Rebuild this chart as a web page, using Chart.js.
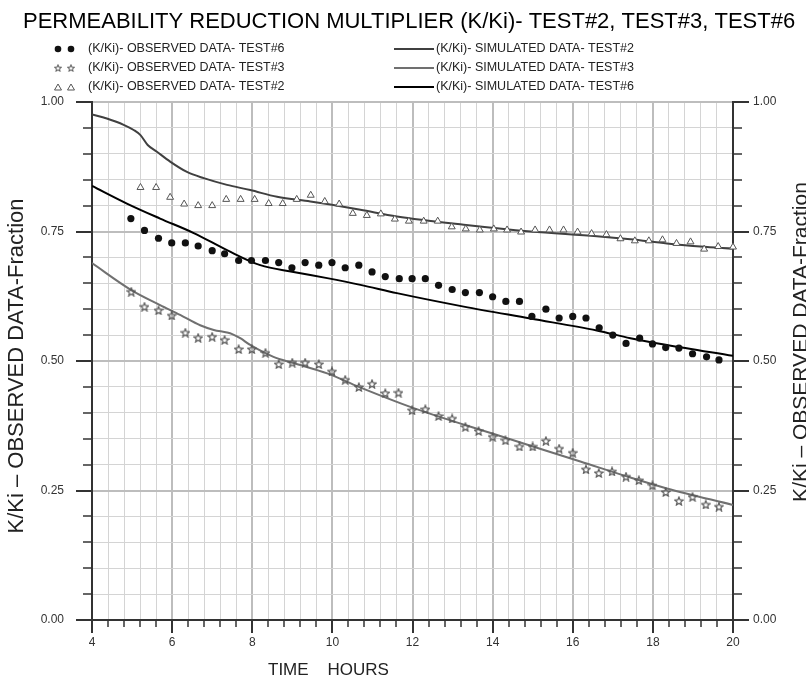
<!DOCTYPE html>
<html>
<head>
<meta charset="utf-8">
<script src="https://cdn.jsdelivr.net/npm/chart.js@4.4.1/dist/chart.umd.min.js"></script>
<style>
html, body { margin: 0; padding: 0; background: #fff; overflow: hidden; }
#wrap { width: 806px; height: 677px; position: relative; }
</style>
</head>
<body>
<div id="wrap"><canvas id="permChart"></canvas></div>
<script>
// Observed K/Ki, time in hours
var obs6Time = [4.97, 5.31, 5.66, 5.99, 6.33, 6.65, 7.0, 7.31, 7.66, 7.98, 8.33, 8.66, 8.99, 9.32, 9.66, 9.99, 10.32, 10.66, 10.99, 11.32, 11.67, 11.99, 12.32, 12.65, 12.99, 13.32, 13.67, 14.0, 14.33, 14.67, 14.98, 15.33, 15.66, 16.0, 16.33, 16.66, 17.0, 17.33, 17.67, 17.99, 18.32, 18.65, 18.99, 19.34, 19.65];
var obs6Val = [0.775, 0.752, 0.737, 0.728, 0.728, 0.722, 0.713, 0.707, 0.694, 0.694, 0.694, 0.690, 0.680, 0.690, 0.685, 0.690, 0.680, 0.685, 0.672, 0.663, 0.659, 0.659, 0.659, 0.646, 0.638, 0.632, 0.632, 0.624, 0.615, 0.615, 0.586, 0.600, 0.583, 0.586, 0.583, 0.564, 0.550, 0.534, 0.544, 0.533, 0.526, 0.525, 0.514, 0.508, 0.502];

var obs3Time = [4.98, 5.31, 5.66, 5.99, 6.33, 6.65, 7.0, 7.31, 7.66, 7.99, 8.33, 8.66, 9.0, 9.32, 9.66, 9.99, 10.32, 10.66, 10.99, 11.32, 11.65, 11.99, 12.32, 12.65, 12.99, 13.32, 13.65, 14.0, 14.32, 14.67, 15.0, 15.33, 15.66, 16.0, 16.33, 16.65, 16.98, 17.33, 17.65, 17.99, 18.32, 18.65, 18.99, 19.32, 19.65];
var obs3Val = [0.634, 0.605, 0.598, 0.588, 0.555, 0.545, 0.547, 0.541, 0.523, 0.523, 0.516, 0.494, 0.497, 0.497, 0.494, 0.480, 0.464, 0.450, 0.456, 0.438, 0.439, 0.405, 0.407, 0.394, 0.389, 0.373, 0.365, 0.354, 0.347, 0.335, 0.335, 0.346, 0.331, 0.323, 0.291, 0.284, 0.287, 0.277, 0.270, 0.260, 0.247, 0.230, 0.238, 0.223, 0.219];

var obs2Time = [5.21, 5.6, 5.95, 6.3, 6.65, 7.0, 7.35, 7.71, 8.06, 8.41, 8.76, 9.11, 9.46, 9.81, 10.17, 10.51, 10.86, 11.21, 11.56, 11.91, 12.28, 12.63, 12.98, 13.33, 13.68, 14.03, 14.36, 14.71, 15.06, 15.42, 15.77, 16.12, 16.47, 16.84, 17.19, 17.55, 17.9, 18.24, 18.59, 18.94, 19.28, 19.63, 20.0];
var obs2Val = [0.835, 0.835, 0.816, 0.803, 0.800, 0.800, 0.812, 0.812, 0.812, 0.804, 0.804, 0.812, 0.820, 0.808, 0.803, 0.785, 0.781, 0.784, 0.774, 0.770, 0.770, 0.770, 0.759, 0.755, 0.753, 0.755, 0.753, 0.749, 0.753, 0.753, 0.753, 0.749, 0.746, 0.744, 0.736, 0.732, 0.732, 0.734, 0.727, 0.730, 0.716, 0.721, 0.720];

// Simulated curves
var sim2Time = [4, 4.37, 4.79, 5.04, 5.21, 5.39, 5.62, 5.95, 6.37, 6.79, 7.37, 7.95, 8.62, 9.45, 9.95, 10.7, 11.61, 13.28, 14.95, 16.6, 17.44, 18.35, 19.19, 20];
var sim2Val = [0.976, 0.968, 0.956, 0.946, 0.936, 0.917, 0.904, 0.885, 0.865, 0.853, 0.840, 0.830, 0.817, 0.808, 0.802, 0.792, 0.779, 0.763, 0.750, 0.741, 0.735, 0.727, 0.721, 0.717];

var sim3Time = [4, 4.98, 5.7, 6.2, 6.7, 7.04, 7.37, 7.5, 7.7, 7.95, 8.53, 9.03, 9.87, 10.66, 12.03, 14.11, 16.19, 17.44, 18.35, 20];
var sim3Val = [0.689, 0.637, 0.608, 0.589, 0.569, 0.560, 0.555, 0.552, 0.544, 0.531, 0.508, 0.496, 0.476, 0.450, 0.409, 0.357, 0.306, 0.275, 0.254, 0.222];

var sim6Time = [4, 4.87, 5.7, 6.54, 7.37, 8.2, 9.03, 9.87, 10.7, 11.61, 13.28, 14.94, 16.6, 17.44, 18.35, 20];
var sim6Val = [0.838, 0.804, 0.775, 0.747, 0.714, 0.685, 0.672, 0.660, 0.647, 0.631, 0.605, 0.582, 0.559, 0.544, 0.531, 0.510];

var xMajorTicks = [4, 6, 8, 10, 12, 14, 16, 18, 20];
var yMajorTicks = [0, 0.25, 0.5, 0.75, 1.0];

var chartTitle = 'PERMEABILITY REDUCTION MULTIPLIER (K/Ki)- TEST#2, TEST#3, TEST#6';
var yTitle = 'K/Ki \u2013 OBSERVED DATA-Fraction';
var xTitle = 'TIME    HOURS';

function pts(t, v) {
    return t.map(function (x, i) { return { x: x, y: v[i] }; });
}

function isMajor(v, list) {
    return list.some(function (m) { return Math.abs(v - m) < 1e-6; });
}

// outlined five point star used for TEST#3 markers
function makeStar(size, color) {
    var c = document.createElement('canvas');
    c.width = size; c.height = size;
    var g = c.getContext('2d');
    var cx = size / 2, cy = size / 2 + 0.5, ro = size / 2 - 0.7, ri = ro * 0.45;
    g.beginPath();
    for (var i = 0; i < 10; i++) {
        var r = i % 2 ? ri : ro;
        var a = -Math.PI / 2 + i * Math.PI / 5;
        g.lineTo(cx + r * Math.cos(a), cy + r * Math.sin(a));
    }
    g.closePath();
    g.strokeStyle = color;
    g.lineWidth = 1.2;
    g.stroke();
    return c;
}
var starImg = makeStar(10, '#555');

var fontFam = '"Liberation Sans", Arial, sans-serif';

// title, two-column legend, axis titles and tick marks
var decor = {
    id: 'decor',
    afterDraw: function (chart) {
        var ctx = chart.ctx;
        var xs = chart.scales.x, yl = chart.scales.y, yr = chart.scales.y2;
        var ds = chart.data.datasets;
        ctx.save();

        ctx.strokeStyle = '#333';
        xs.ticks.forEach(function (t) {
            var px = Math.round(xs.getPixelForValue(t.value));
            var maj = isMajor(t.value, xMajorTicks);
            ctx.lineWidth = maj ? 2 : 1.5;
            ctx.beginPath();
            ctx.moveTo(px, xs.top);
            ctx.lineTo(px, xs.top + (maj ? 13 : 7));
            ctx.stroke();
        });
        [[yl, -1], [yr, 1]].forEach(function (pair) {
            var s = pair[0], dir = pair[1];
            var x0 = dir < 0 ? s.right : s.left;
            s.ticks.forEach(function (t) {
                var py = Math.round(s.getPixelForValue(t.value));
                var maj = isMajor(t.value, yMajorTicks);
                ctx.lineWidth = maj ? 2 : 1.5;
                ctx.beginPath();
                ctx.moveTo(x0, py);
                ctx.lineTo(x0 + dir * (maj ? 16 : 9), py);
                ctx.stroke();
            });
        });

        ctx.fillStyle = '#000';
        ctx.textBaseline = 'middle';
        ctx.textAlign = 'left';
        ctx.font = '22px ' + fontFam;
        ctx.fillText(chartTitle, 23, 22);

        // legend: observed on the left, simulated on the right
        var rows = [49, 68, 87];
        ctx.font = '12.5px ' + fontFam;
        [0, 1, 2].forEach(function (i) {
            var d = ds[i], y = rows[i];
            [58, 71].forEach(function (mx) {
                if (d.pointStyle === 'circle') {
                    ctx.fillStyle = d.backgroundColor;
                    ctx.beginPath(); ctx.arc(mx, y, 3.3, 0, Math.PI * 2); ctx.fill();
                } else if (d.pointStyle === 'triangle') {
                    ctx.strokeStyle = d.borderColor; ctx.lineWidth = 1;
                    ctx.beginPath(); ctx.moveTo(mx, y - 3); ctx.lineTo(mx + 3.5, y + 3); ctx.lineTo(mx - 3.5, y + 3); ctx.closePath(); ctx.stroke();
                } else {
                    ctx.drawImage(d.pointStyle, mx - 4, y - 4, 8, 8);
                }
            });
            ctx.fillStyle = '#222';
            ctx.fillText(d.label, 88, y);
        });
        [3, 4, 5].forEach(function (i, k) {
            var d = ds[i], y = rows[k];
            ctx.strokeStyle = d.borderColor;
            ctx.lineWidth = d.borderWidth;
            ctx.beginPath(); ctx.moveTo(394, y); ctx.lineTo(434, y); ctx.stroke();
            ctx.fillStyle = '#222';
            ctx.fillText(d.label, 436, y);
        });

        // axis titles
        ctx.fillStyle = '#222';
        ctx.font = '17px ' + fontFam;
        ctx.fillText(xTitle, 268, 670);

        ctx.textAlign = 'center';
        ctx.save();
        ctx.font = '22px ' + fontFam;
        ctx.translate(17, 366);
        ctx.rotate(-Math.PI / 2);
        ctx.fillText(yTitle, 0, 0);
        ctx.restore();
        ctx.save();
        ctx.font = '21px ' + fontFam;
        ctx.translate(801, 342);
        ctx.rotate(-Math.PI / 2);
        ctx.fillText(yTitle, 0, 0);
        ctx.restore();

        ctx.restore();
    }
};

function gridColor(list) {
    return function (c) { return c.tick && isMajor(c.tick.value, list) ? '#bdbdbd' : '#d4d4d4'; };
}
function gridWidth(list) {
    return function (c) { return c.tick && isMajor(c.tick.value, list) ? 2 : 1; };
}
function yLabel(v) {
    return isMajor(v, yMajorTicks) ? v.toFixed(2) : '';
}

var ctxEl = document.getElementById('permChart').getContext('2d');
var permChart = new Chart(ctxEl, {
    type: 'scatter',
    data: {
        datasets: [
            {
                label: '(K/Ki)- OBSERVED DATA- TEST#6',
                data: pts(obs6Time, obs6Val),
                pointStyle: 'circle',
                pointRadius: 3.6,
                backgroundColor: '#111',
                borderColor: '#111',
                borderWidth: 0,
                clip: false
            },
            {
                label: '(K/Ki)- OBSERVED DATA- TEST#3',
                data: pts(obs3Time, obs3Val),
                pointStyle: starImg,
                pointRadius: 5,
                backgroundColor: '#555',
                borderColor: '#555',
                clip: false
            },
            {
                label: '(K/Ki)- OBSERVED DATA- TEST#2',
                data: pts(obs2Time, obs2Val),
                pointStyle: 'triangle',
                pointRadius: 4,
                backgroundColor: '#fff',
                borderColor: '#555',
                borderWidth: 1,
                clip: false
            },
            {
                label: '(K/Ki)- SIMULATED DATA- TEST#2',
                data: pts(sim2Time, sim2Val),
                showLine: true,
                pointRadius: 0,
                borderColor: '#404040',
                borderWidth: 2,
                cubicInterpolationMode: 'monotone'
            },
            {
                label: '(K/Ki)- SIMULATED DATA- TEST#3',
                data: pts(sim3Time, sim3Val),
                showLine: true,
                pointRadius: 0,
                borderColor: '#707070',
                borderWidth: 2,
                cubicInterpolationMode: 'monotone'
            },
            {
                label: '(K/Ki)- SIMULATED DATA- TEST#6',
                data: pts(sim6Time, sim6Val),
                showLine: true,
                pointRadius: 0,
                borderColor: '#000',
                borderWidth: 2,
                cubicInterpolationMode: 'monotone'
            }
        ]
    },
    options: {
        responsive: true,
        maintainAspectRatio: false,
        animation: false,
        layout: { padding: { top: 102, left: 0, right: 0, bottom: 0 } },
        plugins: {
            legend: { display: false },
            title: { display: false },
            tooltip: { enabled: false }
        },
        scales: {
            x: {
                type: 'linear',
                min: 4,
                max: 20,
                afterFit: function (s) { s.height = 57; },
                ticks: {
                    stepSize: 0.4,
                    autoSkip: false,
                    maxRotation: 0,
                    padding: 2,
                    color: '#333',
                    font: { family: fontFam, size: 12 },
                    callback: function (v) { return isMajor(v, xMajorTicks) ? String(Math.round(v)) : ''; }
                },
                grid: { color: gridColor(xMajorTicks), lineWidth: gridWidth(xMajorTicks), tickLength: 13, tickColor: 'transparent' },
                border: { display: true, color: '#333', width: 2 }
            },
            y: {
                position: 'left',
                min: 0,
                max: 1,
                afterFit: function (s) { s.width = 92; },
                ticks: {
                    stepSize: 0.05,
                    autoSkip: false,
                    padding: 12,
                    color: '#333',
                    font: { family: fontFam, size: 12 },
                    callback: yLabel
                },
                grid: { color: gridColor(yMajorTicks), lineWidth: gridWidth(yMajorTicks), tickLength: 16, tickColor: 'transparent' },
                border: { display: true, color: '#333', width: 2 }
            },
            y2: {
                position: 'right',
                min: 0,
                max: 1,
                afterFit: function (s) { s.width = 73; },
                ticks: {
                    stepSize: 0.05,
                    autoSkip: false,
                    padding: 4,
                    color: '#333',
                    font: { family: fontFam, size: 12 },
                    callback: yLabel
                },
                grid: { drawOnChartArea: false, tickLength: 16, tickColor: 'transparent' },
                border: { display: true, color: '#333', width: 2 }
            }
        }
    },
    plugins: [decor]
});
</script>
</body>
</html>
